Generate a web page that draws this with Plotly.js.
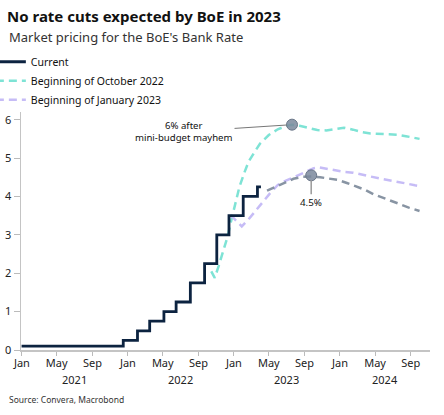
<!DOCTYPE html>
<html>
<head>
<meta charset="utf-8">
<script src="https://cdn.plot.ly/plotly-3.0.1.min.js"></script>
<style>
  html, body { margin: 0; padding: 0; background: #fff; }
  #chart { width: 444px; height: 415px; }
</style>
</head>
<body>
<div id="chart"></div>
<script>
// ---- Data ----
// Bank Rate history (step)
const currentDates = ['2020-12-31','2021-12-16','2022-02-03','2022-03-17','2022-05-05','2022-06-16','2022-08-04','2022-09-22','2022-11-03','2022-12-15','2023-02-02','2023-03-23','2023-04-04'];
const currentRate  = [0.1, 0.25, 0.5, 0.75, 1.0, 1.25, 1.75, 2.25, 3.0, 3.5, 4.0, 4.25, 4.25];

// Current market pricing
const currentFwdDates = ['2023-04-25','2023-05-25','2023-06-25','2023-07-25','2023-08-25','2023-09-25','2023-10-25','2023-11-25','2023-12-25','2024-01-25','2024-02-25','2024-03-25','2024-04-25','2024-05-25','2024-06-25','2024-07-25','2024-08-25','2024-09-25','2024-10-01'];
const currentFwd      = [4.15, 4.25, 4.36, 4.46, 4.51, 4.52, 4.50, 4.47, 4.43, 4.35, 4.27, 4.18, 4.06, 3.98, 3.89, 3.80, 3.71, 3.64, 3.62];

// Pricing at beginning of October 2022
const octDates = ['2022-10-15','2022-10-27','2022-11-10','2022-11-25','2022-12-10','2022-12-22','2023-01-05','2023-01-20','2023-02-05','2023-02-20','2023-03-10','2023-04-01','2023-05-01','2023-06-01','2023-07-01','2023-07-20','2023-08-15','2023-09-15','2023-10-15','2023-11-15','2023-12-15','2024-01-15','2024-02-15','2024-03-15','2024-04-15','2024-05-15','2024-06-15','2024-07-15','2024-08-15','2024-09-15','2024-10-01'];
const octFwd   = [2.05, 1.88, 2.2, 2.55, 2.95, 3.35, 3.8, 4.25, 4.6, 4.9, 5.12, 5.38, 5.6, 5.75, 5.84, 5.87, 5.84, 5.78, 5.73, 5.72, 5.76, 5.79, 5.74, 5.68, 5.64, 5.63, 5.63, 5.61, 5.57, 5.53, 5.5];

// Pricing at beginning of January 2023
const janDates = ['2022-12-20','2023-01-01','2023-01-28','2023-02-20','2023-03-15','2023-04-10','2023-05-05','2023-06-01','2023-07-01','2023-08-01','2023-09-01','2023-10-01','2023-10-20','2023-11-15','2023-12-15','2024-01-15','2024-02-15','2024-03-15','2024-04-15','2024-05-15','2024-06-15','2024-07-15','2024-08-15','2024-09-15','2024-10-01'];
const janFwd   = [3.52, 3.42, 3.22, 3.40, 3.62, 3.85, 4.08, 4.30, 4.42, 4.52, 4.62, 4.73, 4.76, 4.72, 4.67, 4.64, 4.62, 4.58, 4.52, 4.47, 4.43, 4.39, 4.34, 4.29, 4.27];

// Highlighted points
const markerDates  = ['2023-07-20', '2023-09-24'];
const markerValues = [5.87, 4.55];
const markerLabels = ['6% after<br>mini-budget mayhem', '4.5%'];

// Axis ticks
const tickDates = ['2021-01-01','2021-05-01','2021-09-01','2022-01-01','2022-05-01','2022-09-01','2023-01-01','2023-05-01','2023-09-01','2024-01-01','2024-05-01','2024-09-01'];
const tickText  = ['Jan','May','Sep','Jan','May','Sep','Jan','May','Sep','Jan','May','Sep'];
const yearLabels = ['2021','2022','2023','2024'];
const yearLabelDates = ['2021-07-02','2022-07-02','2023-07-02','2024-06-03'];
const yTicks = [0, 1, 2, 3, 4, 5, 6];

// ---- Styling ----
const FONT = 'Noto Sans, Open Sans, sans-serif';
const NAVY = '#0c2340';
const GREY = '#7b8899';
const TEAL = '#7ee3d5';
const LAV  = '#c6bcf6';

const traces = [
  { x: octDates, y: octFwd, type: 'scatter', mode: 'lines', name: 'Beginning of October 2022',
    line: { color: TEAL, width: 2.5, dash: '8px,5px' }, legendrank: 2, hoverinfo: 'skip' },
  { x: janDates, y: janFwd, type: 'scatter', mode: 'lines', name: 'Beginning of January 2023',
    line: { color: LAV, width: 2.5, dash: '8px,5px' }, legendrank: 3, hoverinfo: 'skip' },
  { x: currentFwdDates, y: currentFwd, type: 'scatter', mode: 'lines', name: 'Current pricing', showlegend: false,
    line: { color: GREY, width: 2.5, dash: '8px,5px' }, opacity: 0.9, hoverinfo: 'skip' },
  { x: currentDates, y: currentRate, type: 'scatter', mode: 'lines', name: 'Current',
    line: { color: NAVY, width: 2.8, shape: 'hv' }, legendrank: 1, hoverinfo: 'skip' },
  { x: markerDates, y: markerValues, type: 'scatter', mode: 'markers', showlegend: false,
    marker: { size: 11, color: 'rgba(122,136,156,0.85)', line: { color: '#6a7688', width: 1 } }, hoverinfo: 'skip' }
];

const annotations = [
  { x: markerDates[0], y: markerValues[0], xref: 'x', yref: 'y', text: markerLabels[0],
    showarrow: true, arrowhead: 0, arrowwidth: 1, arrowcolor: '#777', ax: -108, ay: 7, standoff: 5,
    font: { family: FONT, size: 9.6, color: '#111' }, align: 'center' },
  { x: markerDates[1], y: markerValues[1], xref: 'x', yref: 'y', text: markerLabels[1],
    showarrow: true, arrowhead: 0, arrowwidth: 1.5, arrowcolor: '#9a9a9a', ax: 0, ay: 27, standoff: 5,
    font: { family: FONT, size: 9.8, color: '#111' } },
  { xref: 'paper', yref: 'paper', x: -0.034, y: 1.315, xanchor: 'left', yanchor: 'middle', showarrow: false,
    text: 'Market pricing for the BoE\'s Bank Rate', font: { family: FONT, size: 13, color: '#333' } },
  { xref: 'paper', yref: 'paper', x: -0.034, y: -0.21, xanchor: 'left', yanchor: 'middle', showarrow: false,
    text: 'Source: Convera, Macrobond', font: { family: FONT, size: 8.5, color: '#333' } }
];
yearLabels.forEach((t, i) => annotations.push({
  x: yearLabelDates[i], y: -0.126, xref: 'x', yref: 'paper', text: t, showarrow: false,
  xanchor: 'center', yanchor: 'middle', font: { family: FONT, size: 11, color: '#222' }
}));

const layout = {
  width: 444, height: 415,
  margin: { l: 21, r: 14, t: 112, b: 65, autoexpand: false },
  paper_bgcolor: '#fff', plot_bgcolor: '#fff',
  font: { family: FONT, size: 11, color: '#222' },
  title: { text: '<b>No rate cuts expected by BoE in 2023</b>', x: 7/444, xanchor: 'left',
           xref: 'container', yref: 'container', y: 1 - 17/415, yanchor: 'middle',
           font: { family: FONT, size: 15, color: '#111' } },
  showlegend: true,
  legend: { x: -0.0737, xanchor: 'left', y: 1.272, yanchor: 'top', orientation: 'v',
            bgcolor: 'rgba(0,0,0,0)', font: { family: FONT, size: 10.5, color: '#111' }, itemwidth: 30 },
  xaxis: {
    type: 'date', range: ['2020-12-29', '2024-11-06'],
    tickmode: 'array', tickvals: tickDates, ticktext: tickText,
    showgrid: false, zeroline: false, showline: true, linecolor: '#c4c4c4', linewidth: 1.5,
    ticks: 'outside', ticklen: 4, tickcolor: '#bbb', ticklabelstandoff: -2,
    tickfont: { family: FONT, size: 11, color: '#222' }
  },
  yaxis: {
    range: [0, 6.2], tickmode: 'array', tickvals: yTicks,
    showgrid: false, zeroline: false, showline: true, linecolor: '#c4c4c4', linewidth: 1.5,
    ticks: 'outside', ticklen: 6, tickcolor: '#bbb', tickfont: { family: FONT, size: 11, color: '#222' }
  },
  annotations: annotations
};

Plotly.newPlot('chart', traces, layout, { staticPlot: true, displayModeBar: false });
</script>
</body>
</html>
